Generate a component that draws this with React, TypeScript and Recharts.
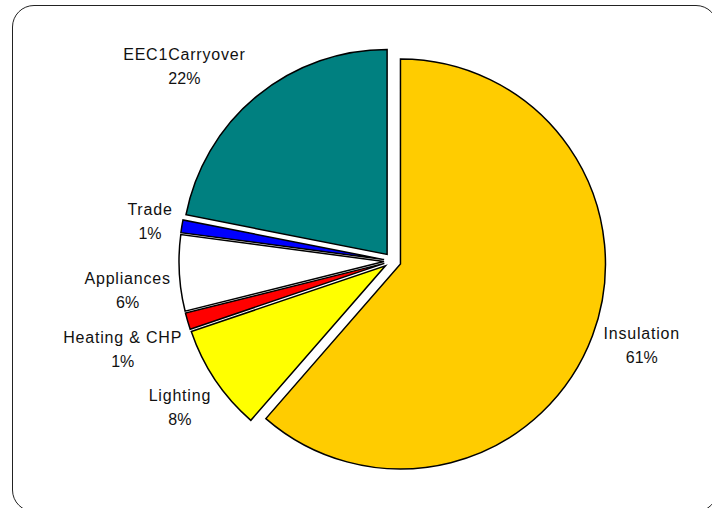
import React from 'react';
import { PieChart, Pie, Cell, Sector } from 'recharts';

const categories = ['Insulation', 'Lighting', 'Heating & CHP', 'Appliances', 'Trade', 'EEC1Carryover'];
const shares = [61.4, 8.4, 1.3, 6.0, 1.0, 21.9];
const sliceColors = ['#FFCC00', '#FFFF00', '#FF0000', '#FFFFFF', '#0000FF', '#008080'];

const data = categories.map((name, i) => ({ name, value: shares[i] }));

const RAD = Math.PI / 180;
const EXPLODE = 8.5;
const LABEL_R = 229;
const FONT = "'Liberation Sans', Arial, sans-serif";
const FONT_SIZE = 16;
const SPACING = 0.8;

// Excel shuffled a few labels on the crowded left side
const labelNudge: Record<string, [number, number]> = {
  'Heating & CHP': [4, 18],
  Appliances: [3, 15],
  Lighting: [6, 8],
  Trade: [4, 0],
  EEC1Carryover: [-7, -4],
  Insulation: [0, -3],
};

let ctx: CanvasRenderingContext2D | null = null;
const textWidth = (s: string) => {
  if (!ctx) ctx = document.createElement('canvas').getContext('2d');
  if (!ctx) return s.length * 8;
  ctx.font = `${FONT_SIZE}px ${FONT}`;
  return ctx.measureText(s).width + s.length * SPACING;
};

const ExplodedSlice = (props: any) => {
  const { cx, cy, midAngle } = props;
  const dx = Math.cos(-midAngle * RAD) * EXPLODE;
  const dy = Math.sin(-midAngle * RAD) * EXPLODE;
  return <Sector {...props} cx={cx + dx} cy={cy + dy} />;
};

const renderLabel = (props: any) => {
  const { cx, cy, midAngle, name, percent } = props;
  const ux = Math.cos(-midAngle * RAD);
  const uy = Math.sin(-midAngle * RAD);
  const pct = `${Math.round(percent * 100)}%`;
  const w = Math.max(textWidth(name), textWidth(pct));
  const [nx, ny] = labelNudge[name] ?? [0, 0];
  const x = cx + ux * LABEL_R + (Math.sign(ux) * 0.91 * w) / 2 + nx;
  const y = cy + uy * LABEL_R + uy * 18 + ny;
  return (
    <text x={x} y={y} textAnchor='middle' fontFamily={FONT} fontSize={FONT_SIZE} fill='#111'>
      <tspan x={x} y={y - 6} letterSpacing={SPACING}>{name}</tspan>
      <tspan x={x} y={y + 18}>{pct}</tspan>
    </text>
  );
};

const App: React.FC = () => {
  return (
    <div style={{ position: 'absolute', left: 0, top: 0, width: 712, height: 508, overflow: 'hidden', background: '#fff' }}>
      <div
        style={{
          position: 'absolute',
          left: 12,
          top: 5,
          width: 706,
          height: 507,
          border: '1.5px solid #222',
          borderRadius: 22,
          boxSizing: 'border-box',
        }}
      />
      <div style={{ position: 'absolute', left: 0, top: 0 }}>
        <PieChart width={712} height={508}>
          <Pie
            data={data}
            dataKey='value'
            nameKey='name'
            cx={387.5}
            cy={256}
            outerRadius={205}
            startAngle={90}
            endAngle={-270}
            stroke='#000'
            strokeWidth={1.5}
            shape={ExplodedSlice}
            label={renderLabel}
            labelLine={false}
            isAnimationActive={false}
          >
            {data.map((d, i) => (
              <Cell key={d.name} fill={sliceColors[i]} />
            ))}
          </Pie>
        </PieChart>
      </div>
    </div>
  );
};

export default App;
